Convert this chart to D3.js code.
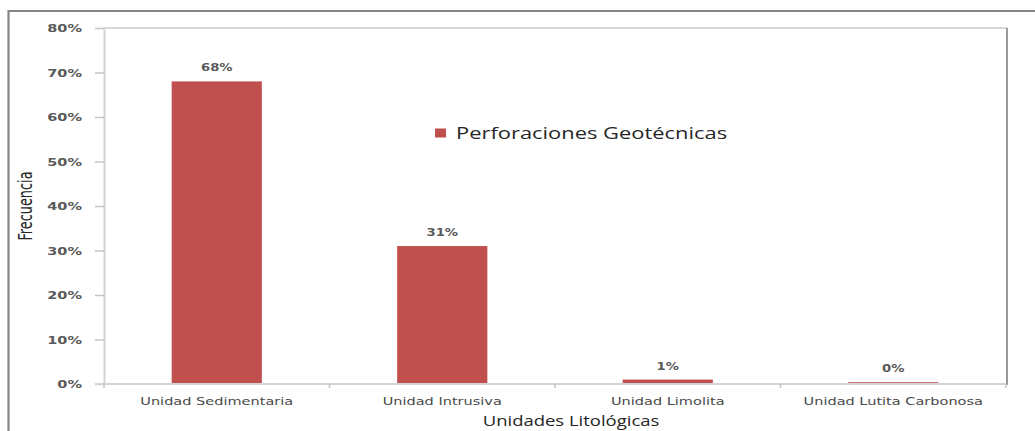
<!DOCTYPE html>
<html>
<head>
<meta charset="utf-8">
<script src="https://cdn.jsdelivr.net/npm/d3@7"></script>
<style>
  html, body { margin: 0; padding: 0; background: #ffffff; }
  svg { display: block; }
</style>
</head>
<body>
<svg id="chart" width="1035" height="431"></svg>
<script>
// Chart data
const categories = ["Unidad Sedimentaria", "Unidad Intrusiva", "Unidad Limolita", "Unidad Lutita Carbonosa"];
const frecuencia = [0.68, 0.31, 0.01, 0.004];
const yTicks = [0, 0.1, 0.2, 0.3, 0.4, 0.5, 0.6, 0.7, 0.8];
const seriesName = "Perforaciones Geotécnicas";
const xTitle = "Unidades Litológicas";
const yTitle = "Frecuencia";

// Layout and styling
const W = 1035, H = 431;
const SX = 1.32;                 // horizontal glyph stretch
const plot = { left: 104, right: 1006, top: 28, bottom: 384 };
const barColor = "#c0504d";
const textColor = "#4a4a4a";
const pct = d3.format(".0%");

const svg = d3.select("#chart");

// outer frame (top and left edges)
svg.append("path")
  .attr("d", `M8.5,${H} L8.5,11 L${W},11`)
  .attr("fill", "none")
  .attr("stroke", "#858585")
  .attr("stroke-width", 2.2);

const x = d3.scaleBand()
  .domain(categories)
  .range([plot.left, plot.right])
  .paddingInner(0.6)
  .paddingOuter(0.3);

const y = d3.scaleLinear()
  .domain([0, 0.8])
  .range([plot.bottom, plot.top]);

// plot area border
svg.append("line")
  .attr("x1", plot.left).attr("x2", plot.right + 1)
  .attr("y1", plot.top).attr("y2", plot.top)
  .attr("stroke", "#c8c8c8").attr("stroke-width", 1.6);
svg.append("line")
  .attr("x1", plot.right + 1).attr("x2", plot.right + 1)
  .attr("y1", plot.top).attr("y2", plot.bottom + 1)
  .attr("stroke", "#9a9a9a").attr("stroke-width", 2);

// y axis
const yAxis = svg.append("g")
  .attr("transform", `translate(${plot.left},0)`)
  .call(d3.axisLeft(y).tickValues(yTicks).tickFormat(pct).tickSize(9).tickSizeOuter(0));
yAxis.select(".domain").attr("stroke", "#d4d4d4").attr("stroke-width", 2);
yAxis.selectAll(".tick line").attr("stroke", "#c4c4c4").attr("stroke-width", 1.5);
yAxis.selectAll(".tick text")
  .attr("x", null)
  .attr("transform", `translate(-22,0) scale(${SX},1)`)
  .attr("font-family", "'DejaVu Sans', sans-serif")
  .attr("font-weight", "bold")
  .attr("font-size", 11)
  .attr("fill", "#5a5a5a");

// bars
svg.append("g")
  .selectAll("rect")
  .data(categories)
  .join("rect")
  .attr("x", d => x(d))
  .attr("width", x.bandwidth())
  .attr("y", (d, i) => y(frecuencia[i]))
  .attr("height", (d, i) => y(0) - y(frecuencia[i]))
  .attr("fill", barColor);

// x axis
const xAxis = svg.append("g")
  .attr("transform", `translate(0,${plot.bottom})`)
  .call(d3.axisBottom(x).tickSize(0).tickSizeOuter(0));
xAxis.select(".domain")
  .attr("d", `M${plot.left - 9},0H${plot.right}`)
  .attr("stroke", "#d4d4d4").attr("stroke-width", 2);
xAxis.selectAll(".tick text")
  .attr("y", null).attr("dy", null)
  .attr("transform", `translate(0,21) scale(${SX},1)`)
  .attr("font-family", "'DejaVu Sans', sans-serif")
  .attr("font-size", 11)
  .attr("fill", textColor);

// category separator ticks
const step = x.step();
xAxis.selectAll(".sep")
  .data(d3.range(categories.length + 1))
  .join("line")
  .attr("class", "sep")
  .attr("x1", i => plot.left + i * step)
  .attr("x2", i => plot.left + i * step)
  .attr("y1", 0).attr("y2", 4)
  .attr("stroke", "#c4c4c4").attr("stroke-width", 1.5);

// value labels
svg.append("g")
  .selectAll("text")
  .data(categories)
  .join("text")
  .attr("transform", (d, i) => `translate(${x(d) + x.bandwidth() / 2},${y(frecuencia[i]) - 10}) scale(${SX},1)`)
  .attr("text-anchor", "middle")
  .attr("font-family", "'DejaVu Sans', sans-serif")
  .attr("font-weight", "bold")
  .attr("font-size", 10)
  .attr("fill", "#5a5a5a")
  .text((d, i) => pct(frecuencia[i]));

// axis titles
svg.append("text")
  .attr("transform", `translate(${(plot.left + plot.right) / 2 + 16},426) scale(${SX},1)`)
  .attr("text-anchor", "middle")
  .attr("font-family", "'Open Sans', sans-serif")
  .attr("font-size", 14)
  .attr("fill", "#262626")
  .text(xTitle);

svg.append("text")
  .attr("transform", `translate(32,${(plot.top + plot.bottom) / 2}) scale(${SX},1) rotate(-90)`)
  .attr("text-anchor", "middle")
  .attr("font-family", "'DejaVu Sans Condensed', 'DejaVu Sans', sans-serif")
  .attr("font-size", 14.3)
  .attr("fill", "#262626")
  .text(yTitle);

// legend
const legend = svg.append("g").attr("transform", "translate(435,133)");
legend.append("rect")
  .attr("x", 0).attr("y", -4.5)
  .attr("width", 11).attr("height", 9)
  .attr("fill", barColor);
legend.append("text")
  .attr("transform", `translate(21,5.5) scale(${SX},1)`)
  .attr("font-family", "'Open Sans', sans-serif")
  .attr("font-size", 16.6)
  .attr("fill", "#262626")
  .text(seriesName);
</script>
</body>
</html>
